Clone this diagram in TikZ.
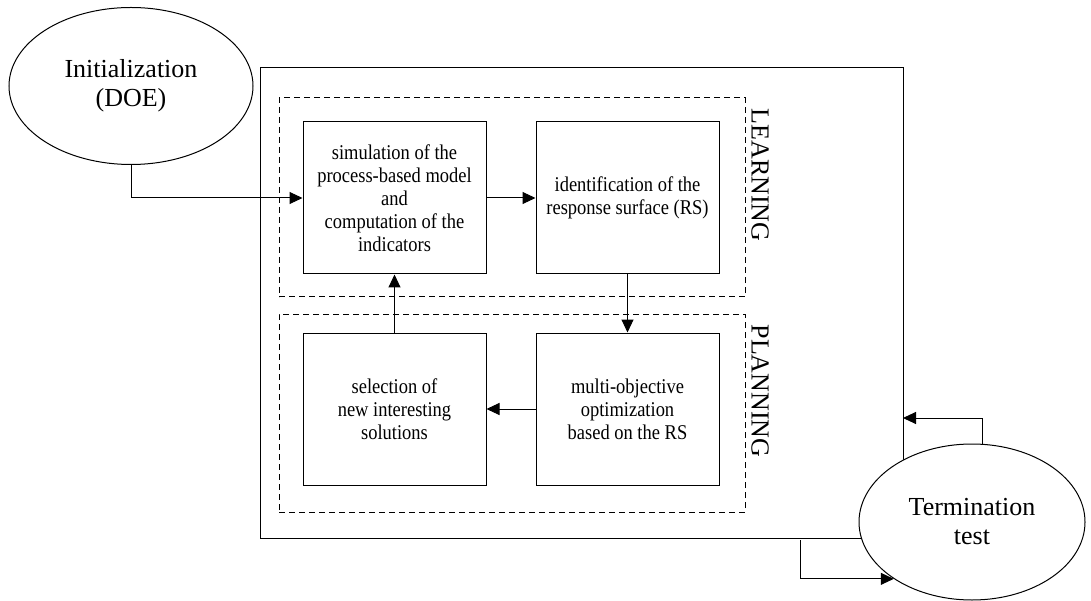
\documentclass[tikz,border=0pt]{standalone}
\usepackage{fontspec}
\setmainfont{Liberation Serif}
\newfontfamily\narrowserif[FakeStretch=0.88]{Liberation Serif}
\usetikzlibrary{arrows.meta,shapes.geometric}

\begin{document}
\begin{tikzpicture}[x=1pt,y=-1pt,line width=1pt,
	blockbox/.style={draw,minimum width=183pt,minimum height=152pt,align=center,inner sep=0pt,
		font=\narrowserif\fontsize{21}{23}\selectfont},
	roundbox/.style={ellipse,draw,fill=white,inner sep=0pt,align=center,
		font=\fontsize{26}{29}\selectfont},
	phasebox/.style={draw,dash pattern=on 6pt off 4pt,minimum width=466pt},
	phaselbl/.style={rotate=-90,font=\fontsize{26}{29}\selectfont},
	arr/.style={-{Triangle[length=13pt,width=12pt]}}]
	\useasboundingbox (0,0) rectangle (1091,601);
	\node[draw,minimum width=643pt,minimum height=470pt] (outer) at (581.5,303) {};
	\node[phasebox,minimum height=199pt] (learn) at (512,197.5) {};
	\node[phasebox,minimum height=198pt] (plan) at (512,413) {};
	\node[phaselbl] (learnlbl) at (760,175) {LEARNING};
	\node[phaselbl] (planlbl) at (760,391) {PLANNING};
	\node[blockbox] (sim) at (394.5,198) {simulation of the\\process-based model\\and\\computation of the\\indicators};
	\node[blockbox] (ident) at (627.5,198) {identification of the\\response surface (RS)};
	\node[blockbox] (optim) at (627.5,409) {multi-objective\\optimization\\based on the RS};
	\node[blockbox] (select) at (394.5,409) {selection of\\new interesting\\solutions};
	\node[roundbox,minimum width=244pt,minimum height=157pt] (init) at (131,86) {Initialization\\(DOE)};
	\node[roundbox,minimum width=226pt,minimum height=156pt] (term) at (972,522) {Termination\\test};
	\coordinate (loopin) at (903,418);
	\coordinate (loopout) at (800,540);
	\draw[arr] (init.south) |- (sim.west);
	\draw[arr] (sim.east) -- (ident.west);
	\draw[arr] (ident.south) -- (optim.north);
	\draw[arr] (optim.west) -- (select.east);
	\draw[arr] (select.north) -- (sim.south);
	\draw[arr] ([xshift=10pt]term.north) |- (loopin);
	\draw[arr] (loopout) |- (term.216);
\end{tikzpicture}
\end{document}
